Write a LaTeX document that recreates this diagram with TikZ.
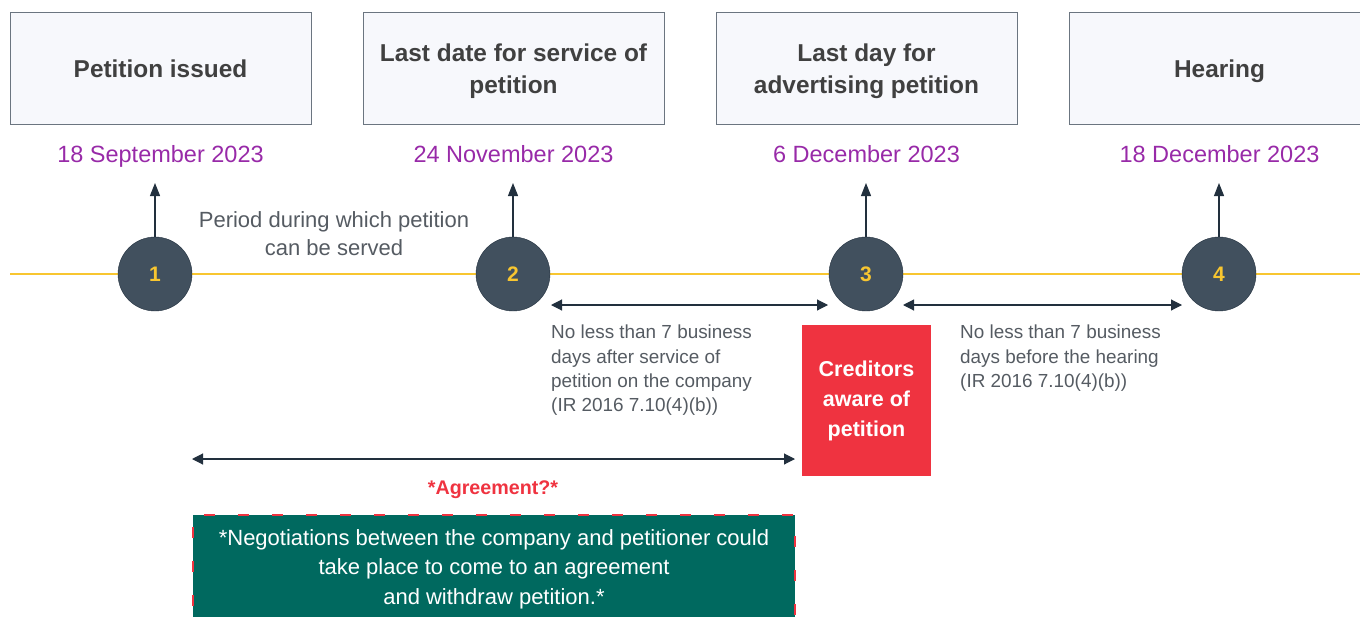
\documentclass[tikz,border=0pt]{standalone}
\usepackage{fontspec}
\setmainfont{Liberation Sans}
\usetikzlibrary{arrows.meta}
\definecolor{boxfill}{HTML}{F7F8FC}
\definecolor{boxline}{HTML}{6B7580}
\definecolor{datepurple}{HTML}{982AA8}
\definecolor{lineyellow}{HTML}{F8C630}
\definecolor{stagefill}{HTML}{41505E}
\definecolor{arrowdark}{HTML}{22303E}
\definecolor{notegray}{HTML}{555B62}
\definecolor{alertred}{HTML}{EF3340}
\definecolor{dealgreen}{HTML}{00695F}

\begin{document}
\begin{tikzpicture}[x=1pt,y=-1pt,
   titlebox/.style={draw=boxline,line width=1pt,fill=boxfill,minimum width=301pt,minimum height=112pt},
   titletext/.style={align=center,text=black!75,font=\fontsize{24.4}{32}\selectfont\bfseries},
   datetext/.style={anchor=base,text=datepurple,font=\fontsize{23.5}{28}\selectfont},
   stage/.style={circle,draw=arrowdark,fill=stagefill,minimum size=74pt,inner sep=0pt,
     text=lineyellow,font=\fontsize{21}{24}\selectfont\bfseries},
   note/.style={text=notegray,align=left,inner sep=0pt,font=\fontsize{18.9}{24.3}\selectfont},
   tip/.style={-{Triangle[length=13pt,width=10pt]},arrowdark,line width=1.1pt},
   span/.style={{Triangle[length=11pt,width=11pt]}-{Triangle[length=11pt,width=11pt]},arrowdark,line width=1.1pt}]
   \useasboundingbox (0,0) rectangle (1360,616);
   % timeline
   \draw[lineyellow,line width=1.3pt] (10,274) -- (1360,274);
   % events
   \node (box1) at (160.5,68) [titlebox] {};
   \node (box2) at (513.5,68) [titlebox] {};
   \node (box3) at (866.5,68) [titlebox] {};
   \node (box4) at (1219.5,68) [titlebox] {};
   \node (title1) at (160.5,69) [titletext] {Petition issued};
   \node (title2) at (513.5,71) [titletext] {Last date for service of\\petition};
   \node (title3) at (866.5,71) [titletext] {Last day for\\advertising petition};
   \node (title4) at (1219.5,71) [titletext] {Hearing};
   \node (date1) at (160.5,162) [datetext] {18 September 2023};
   \node (date2) at (513.5,162) [datetext] {24 November 2023};
   \node (date3) at (866.5,162) [datetext] {6 December 2023};
   \node (date4) at (1219.5,162) [datetext] {18 December 2023};
   \node (stage1) at (155,274) [stage] {1};
   \node (stage2) at (513,274) [stage] {2};
   \node (stage3) at (866,274) [stage] {3};
   \node (stage4) at (1219,274) [stage] {4};
   \foreach \i/\x in {1/155,2/513,3/866,4/1219} {
     \coordinate (up\i) at (\x,183);
     \draw[tip] (stage\i.north) -- (up\i);
   }
   % periods
   \node (served) at (334,234) [note,align=center,font=\fontsize{22}{28}\selectfont] {Period during which petition\\can be served};
   \coordinate (advfrom) at (551,305);
   \coordinate (advto) at (828,305);
   \draw[span] (advfrom) -- (advto);
   \node (advnote) at (551,325) [note,anchor=north west] {No less than 7 business\\days after service of\\petition on the company\\(IR 2016 7.10(4)(b))};
   \coordinate (hearfrom) at (903,305);
   \coordinate (hearto) at (1182,305);
   \draw[span] (hearfrom) -- (hearto);
   \node (hearnote) at (960,325) [note,anchor=north west] {No less than 7 business\\days before the hearing\\(IR 2016 7.10(4)(b))};
   \node (aware) at (866.5,400.5) [fill=alertred,minimum width=129pt,minimum height=151pt,align=center,
     text=white,font=\fontsize{21.5}{30}\selectfont\bfseries] {Creditors\\aware of\\petition};
   % agreement window
   \coordinate (dealfrom) at (192,459);
   \coordinate (dealto) at (795,459);
   \draw[span] (dealfrom) -- (dealto);
   \node (deal) at (493,490) [text=alertred,font=\fontsize{19.7}{22}\selectfont\bfseries] {*Agreement?*};
   \draw[fill=dealgreen,draw=alertred,line width=1.5pt,dash pattern=on 11pt off 23pt] (193,640) -- (193,515) -- (795,515) -- (795,640);
   \node (talks) at (494,569) [align=center,text=white,font=\fontsize{22}{29.5}\selectfont] {*Negotiations between the company and petitioner could\\take place to come to an agreement\\and withdraw petition.*};
\end{tikzpicture}
\end{document}
